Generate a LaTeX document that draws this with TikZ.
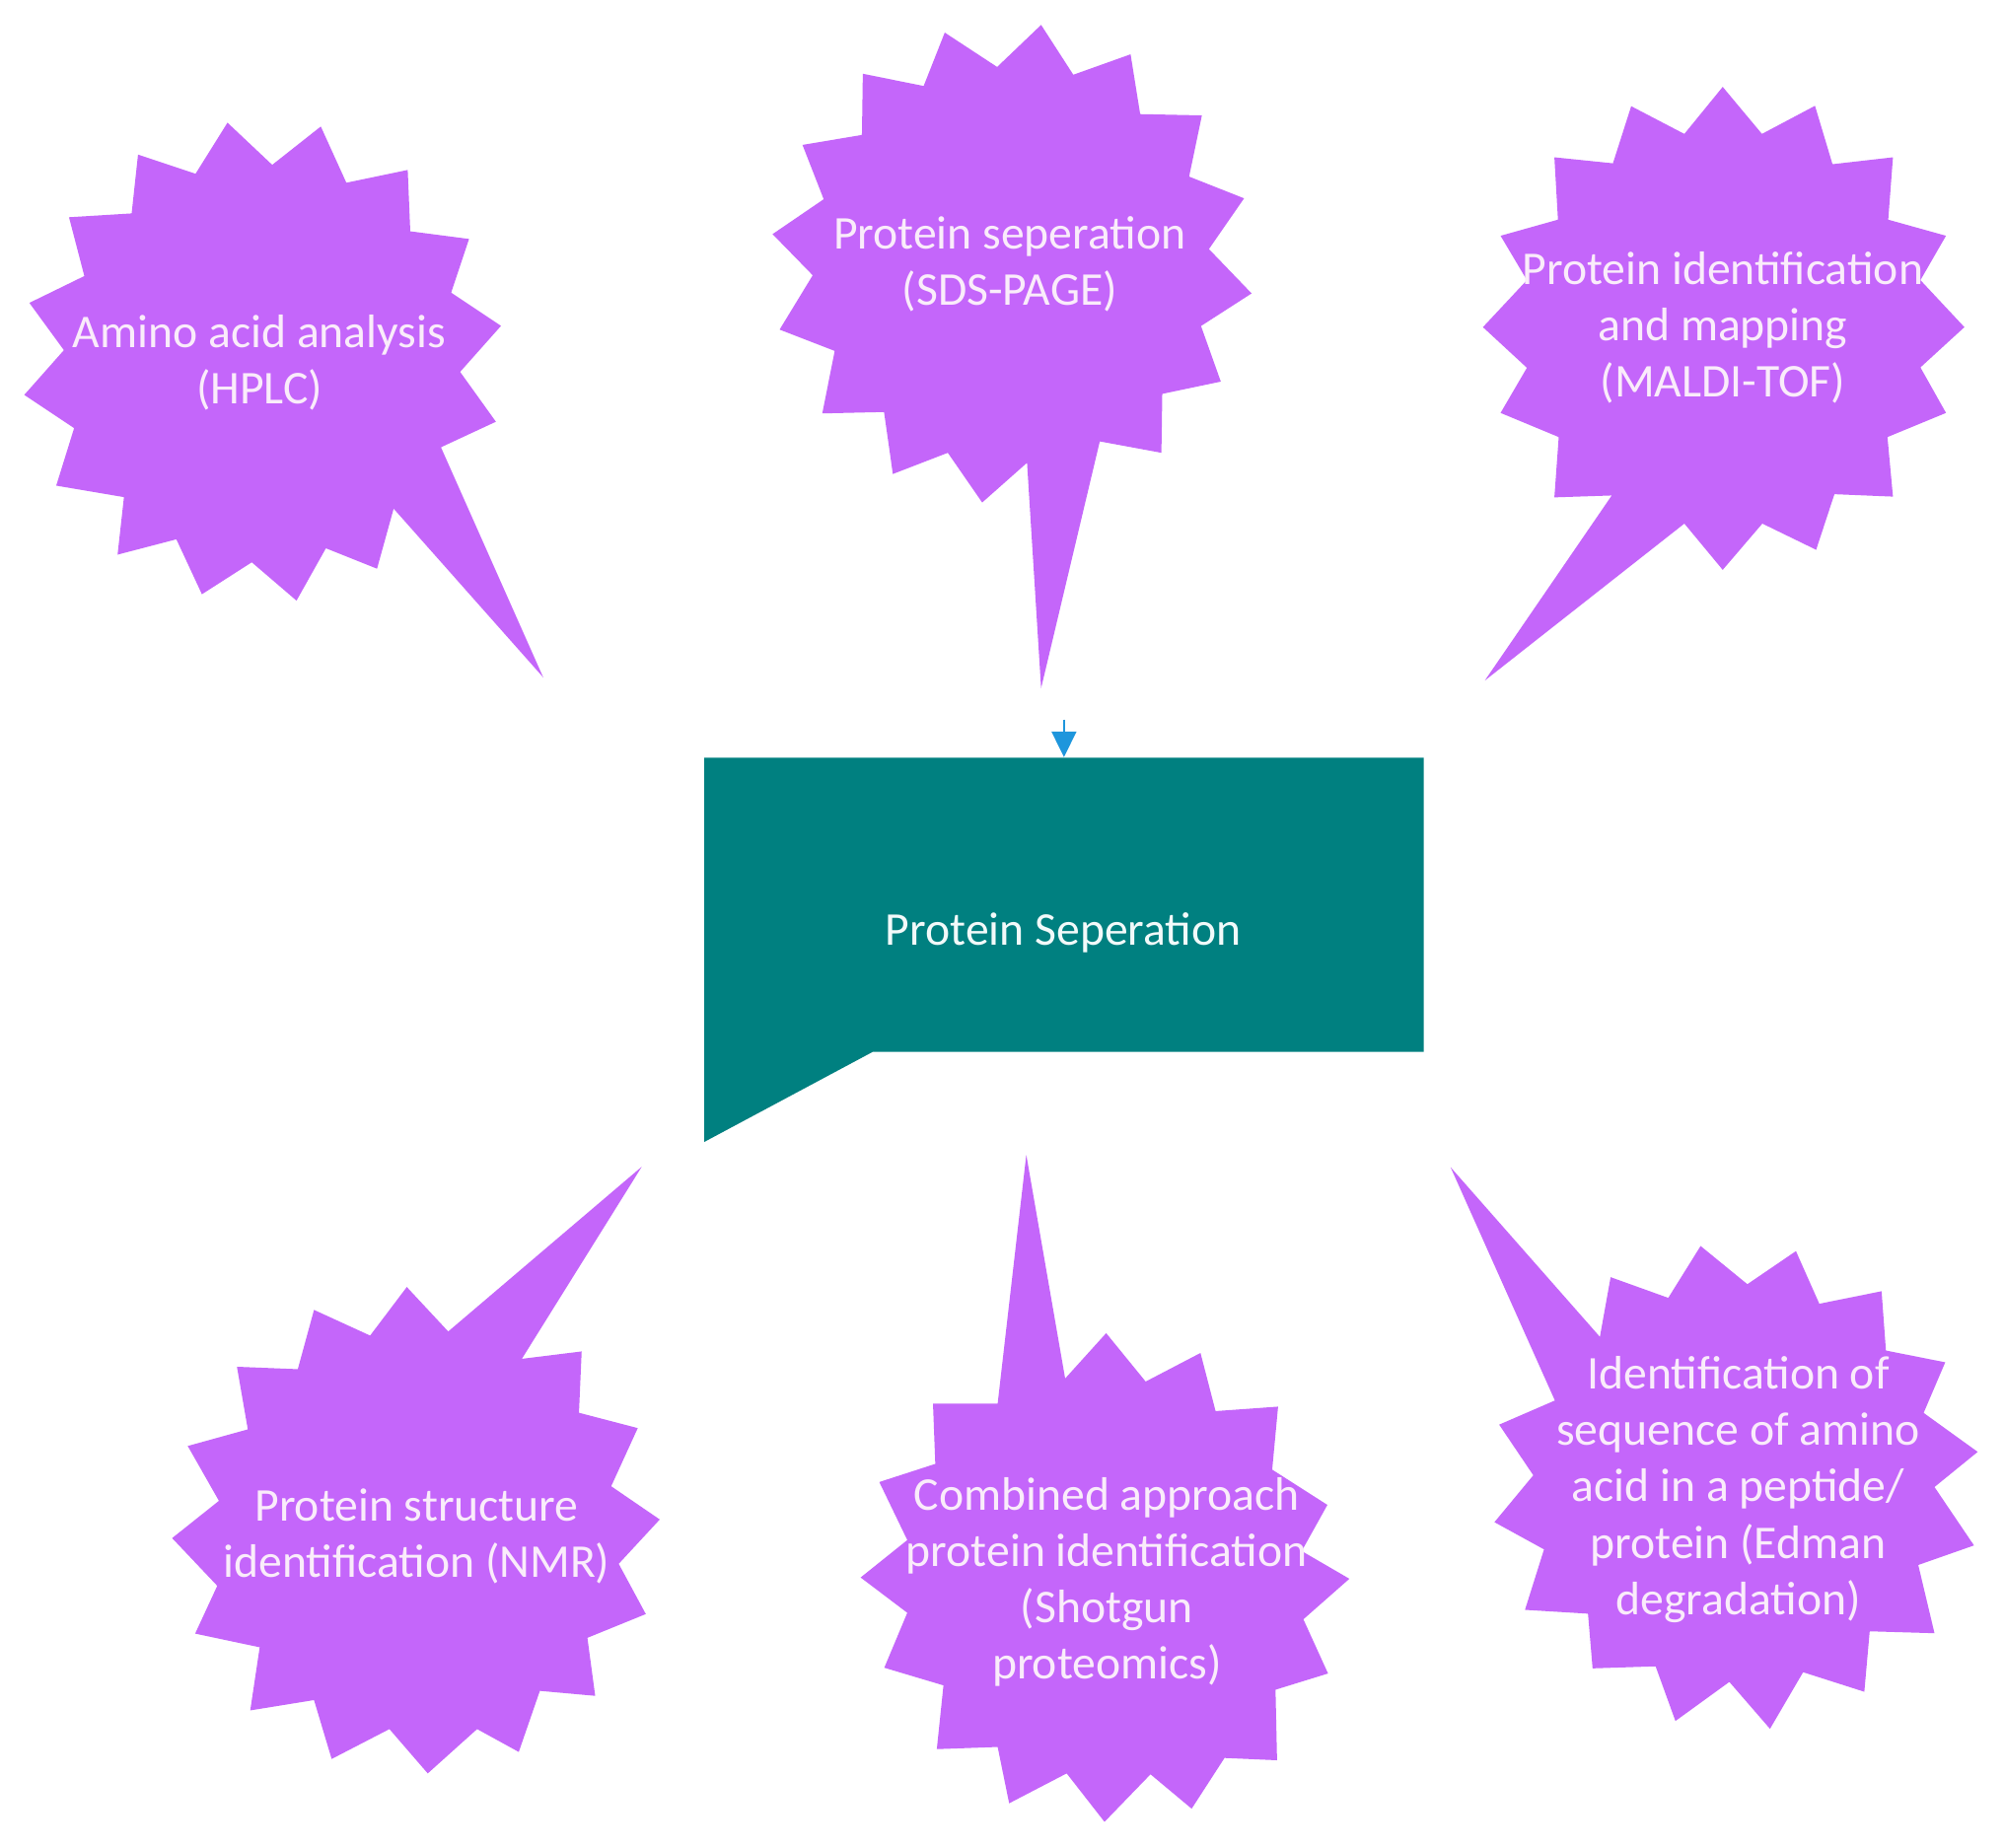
\documentclass[tikz,border=0pt]{standalone}
\usepackage{fontspec}
\setmainfont{Carlito}
\usetikzlibrary{arrows.meta}
\definecolor{burstc}{RGB}{196,102,250}
\definecolor{tealc}{RGB}{0,128,128}
\definecolor{arrowc}{RGB}{30,150,220}
\definecolor{bursttxt}{RGB}{250,236,250}
\definecolor{boxtxt}{RGB}{242,250,250}
\begin{document}
\begin{tikzpicture}[x=0.013cm,y=-0.013cm,
  burst/.style={fill=burstc},
  bursttext/.style={text=bursttxt, align=center, inner sep=0pt, font=\fontsize{13.6}{16.3}\selectfont},
  boxtext/.style={text=boxtxt, inner sep=0pt, font=\fontsize{13.6}{16.3}\selectfont},
  boxframe/.style={draw=none, inner sep=0pt, minimum width=7.319cm, minimum height=2.99cm},
  link/.style={arrowc, line width=0.6pt, -{Triangle[width=0.25cm,length=0.26cm]}}]
\useasboundingbox (0,0) rectangle (1568,1446);
\fill[white] (0,0) rectangle (1568,1446);

% Star 1: Amino acid analysis
\fill[burst] (178,96) -- (213,129) -- (251,99) -- (271,143) -- (319,133) -- (321,181)
 -- (367,187) -- (353,229) -- (392,255) -- (360,291) -- (388,330) -- (345,350)
 -- (425,530) -- (308,398) -- (295,445) -- (255,429) -- (232,470) -- (197,440)
 -- (158,465) -- (138,422) -- (92,434) -- (97,389) -- (44,380) -- (58,335)
 -- (19,309) -- (50,274) -- (23,237) -- (66,216) -- (54,170) -- (103,167)
 -- (108,121) -- (153,136) -- cycle;
\node[bursttext] (s1) at (203,284) {Amino acid analysis\\(HPLC)};

% Star 2: Protein seperation
\fill[burst] (814.6,19.5) -- (839.8,58.5) -- (884.6,42.5) -- (892.1,89.3) -- (940.4,90.3)
 -- (930.4,138.2) -- (973.4,155.2) -- (945.9,194.9) -- (979.3,229.6) -- (939.7,255.1)
 -- (955.2,298.6) -- (909.4,308.2) -- (908.7,354.3) -- (860.5,345.4) -- (814.6,538.5)
 -- (803.6,362.1) -- (768.5,393.2) -- (741.6,354.3) -- (698.6,370.9) -- (691.7,322.4)
 -- (643.4,323.5) -- (653.1,274.6) -- (610.0,257.9) -- (635.9,215.4) -- (604.5,183.2)
 -- (644.5,155.9) -- (627.9,113.4) -- (674.4,105.6) -- (675.1,57.7) -- (722.7,67.3)
 -- (739.2,25.5) -- (780.2,52.4) -- cycle;
\node[bursttext] (s2) at (790,206.5) {Protein seperation\\(SDS-PAGE)};

% Star 3: Protein identification and mapping
\fill[burst] (1347.9,68.0) -- (1378.6,104.8) -- (1420.1,82.8) -- (1433.8,128.5) -- (1481.1,123.1)
 -- (1477.4,171.9) -- (1522.6,184.5) -- (1502.6,219.2) -- (1537.0,256.0) -- (1502.6,287.5)
 -- (1522.6,323.1) -- (1476.8,342.0) -- (1481.1,388.6) -- (1435.3,386.7) -- (1421.0,430.2)
 -- (1378.9,409.7) -- (1347.9,445.9) -- (1317.9,409.7) -- (1161.8,532.5) -- (1261.1,387.7)
 -- (1216.2,389.2) -- (1219.6,342.0) -- (1174.1,323.1) -- (1194.7,287.8) -- (1160.3,256.0)
 -- (1194.7,219.2) -- (1174.1,184.5) -- (1219.0,171.9) -- (1216.2,123.1) -- (1262.0,127.8)
 -- (1276.3,83.1) -- (1317.9,104.8) -- cycle;
\node[bursttext] (s3) at (1348,256.5) {Protein identification\\and mapping\\(MALDI-TOF)};

% Centre box
\fill[tealc] (551,593) -- (1114,593) -- (1114,823) -- (683,823) -- (551,893.6) -- cycle;
\node[boxframe] (box) at (832.5,708) {};
\node[boxtext] (ps) at (832,730) {Protein Seperation};
\coordinate (arrtop) at (832.5,563);
\draw[link] (arrtop) -- (box.north);

% Star 4: Protein structure identification (NMR)
\fill[burst] (502.1,913.0) -- (408.3,1063.3) -- (455.1,1057.5) -- (453.0,1105.5) -- (499.0,1117.5)
 -- (478.2,1163.0) -- (516.2,1189.0) -- (484.1,1223.7) -- (505.3,1263.0) -- (459.6,1281.6)
 -- (465.7,1327.0) -- (422.4,1323.1) -- (405.9,1370.9) -- (373.3,1353.0) -- (334.7,1387.7)
 -- (304.7,1353.0) -- (259.5,1376.4) -- (245.7,1330.3) -- (195.8,1338.4) -- (203.2,1289.0)
 -- (152.7,1278.3) -- (170.0,1240.9) -- (134.7,1203.6) -- (171.3,1174.4) -- (146.9,1131.5)
 -- (193.9,1118.5) -- (185.4,1069.5) -- (233.0,1071.4) -- (245.7,1025.0) -- (289.6,1045.1)
 -- (318.3,1007.1) -- (350.7,1041.9) -- cycle;
\node[bursttext] (s4) at (326,1202) {Protein structure\\identification (NMR)};

% Star 5: Combined approach (Shotgun proteomics)
\fill[burst] (803.0,903.7) -- (833.4,1078.7) -- (865.5,1043.2) -- (896.4,1081.1) -- (939.3,1058.7)
 -- (951.1,1104.2) -- (1000.0,1100.7) -- (995.4,1150.0) -- (1038.6,1177.6) -- (1018.5,1213.7)
 -- (1055.8,1235.4) -- (1019.8,1267.1) -- (1039.1,1309.5) -- (998.0,1322.2) -- (999.2,1377.4)
 -- (958.1,1375.6) -- (932.4,1415.3) -- (900.2,1388.4) -- (864.2,1425.6) -- (834.6,1387.7)
 -- (789.6,1411.1) -- (780.6,1367.0) -- (733.0,1368.7) -- (738.2,1318.8) -- (691.9,1305.0)
 -- (709.9,1262.0) -- (673.4,1234.4) -- (709.9,1205.1) -- (688.0,1159.7) -- (731.8,1145.5)
 -- (730.0,1098.3) -- (780.6,1098.3) -- cycle;
\node[bursttext] (s5) at (866,1238) {Combined approach\\protein identification\\(Shotgun\\proteomics)};

% Star 6: Edman degradation
\fill[burst] (1135.0,913.4) -- (1251.8,1046.1) -- (1260.2,999.4) -- (1305.3,1015.6) -- (1330.6,975.0)
 -- (1367.2,1004.9) -- (1405.2,979.0) -- (1423.5,1020.2) -- (1472.2,1010.4) -- (1475.6,1056.8)
 -- (1522.0,1066.0) -- (1505.1,1105.6) -- (1547.4,1136.1) -- (1513.6,1163.6) -- (1544.5,1209.3)
 -- (1500.9,1224.6) -- (1513.6,1278.0) -- (1462.9,1276.5) -- (1458.7,1323.8) -- (1410.8,1308.5)
 -- (1384.9,1352.8) -- (1353.1,1316.1) -- (1310.9,1346.7) -- (1295.4,1303.9) -- (1246.1,1305.5)
 -- (1242.5,1262.7) -- (1193.2,1259.7) -- (1208.1,1212.4) -- (1169.3,1191.1) -- (1199.7,1154.4)
 -- (1173.0,1114.8) -- (1216.6,1095.9) -- cycle;
\node[bursttext] (s6) at (1360,1165.6) {Identification of\\sequence of amino\\acid in a peptide/\\protein (Edman\\degradation)};
\end{tikzpicture}
\end{document}
